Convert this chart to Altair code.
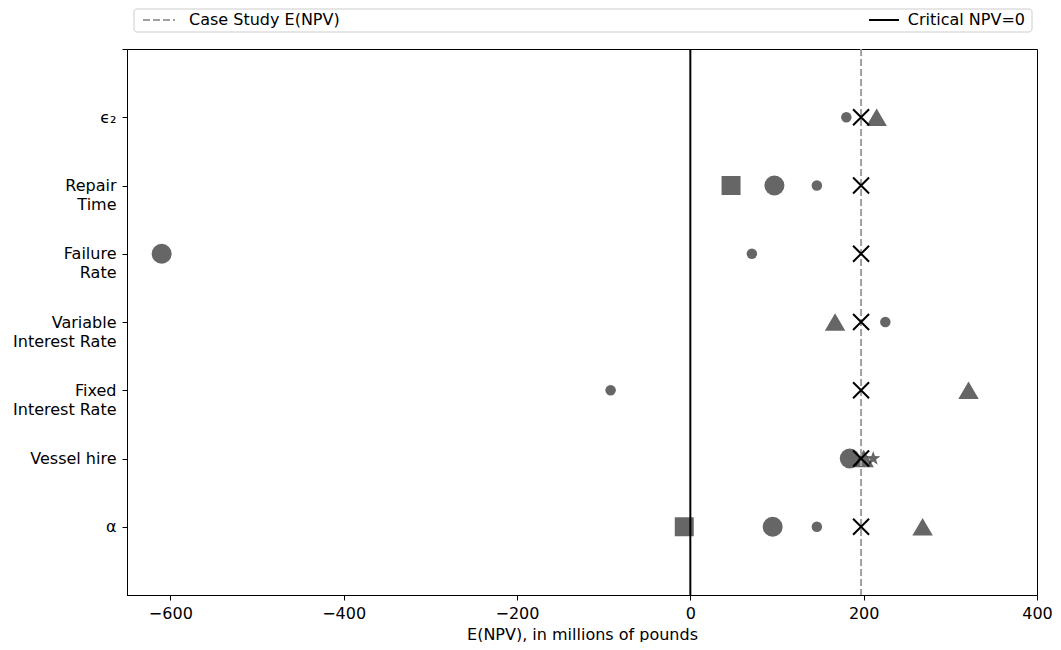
import json
import math
import altair as alt
import pandas as pd

# ---------------- data ----------------
categories = ["α", "Vessel hire", "Fixed\nInterest Rate", "Variable\nInterest Rate",
              "Failure\nRate", "Repair\nTime", "ϵ₂"]

large_circle_cat = ["α", "Vessel hire", "Failure\nRate", "Repair\nTime"]
large_circle_val = [95, 184, -610, 97]

small_circle_cat = ["α", "Fixed\nInterest Rate", "Variable\nInterest Rate", "Failure\nRate", "Repair\nTime", "ϵ₂"]
small_circle_val = [146, -92, 225, 71, 146, 180]

square_cat = ["α", "Repair\nTime"]
square_val = [-7, 47]

triangle_cat = ["α", "Vessel hire", "Fixed\nInterest Rate", "Variable\nInterest Rate", "ϵ₂"]
triangle_val = [268, 200, 321, 167, 215]

star_cat = ["Vessel hire"]
star_val = [211]

case_study_npv = 197
critical_npv = 0

x_ticks = [-600, -400, -200, 0, 200, 400]
x_domain = [-650, 400]

FS = 16
W = 910

# ---------------- helpers ----------------
idx = {c: i for i, c in enumerate(categories)}


def frame(cats, vals):
    return pd.DataFrame({"cat": [idx[c] for c in cats], "val": vals})


x_enc = alt.X("val:Q", scale=alt.Scale(domain=x_domain, nice=False, zero=False),
              axis=alt.Axis(values=x_ticks, title="E(NPV), in millions of pounds",
                            labelPadding=5, titlePadding=5))
y_enc = alt.Y("cat:Q", scale=alt.Scale(domain=[-1, len(categories)], nice=False, zero=False),
              axis=alt.Axis(values=list(range(len(categories) + 1)), title=None, labelPadding=6,
                            labelExpr="datum.value >= 0 && datum.value < %d ? %s[datum.value] : ''" % (
                                len(categories),
                                json.dumps([c.split("\n") for c in categories], ensure_ascii=False))))

GREY = "#000000"
OP = 0.6


def pts(df, shape, size):
    return alt.Chart(df).mark_point(shape=shape, size=size, filled=True, color=GREY,
                                    opacity=OP, strokeWidth=0).encode(x=x_enc, y=y_enc)


# star path in [-1,1]
star_pts = []
for k in range(10):
    r = 1.0 if k % 2 == 0 else 0.4
    a = -math.pi / 2 + k * math.pi / 5
    star_pts.append((r * math.cos(a), r * math.sin(a)))
star_path = "M" + "L".join("%.3f,%.3f" % p for p in star_pts) + "Z"
x_path = "M-1,-1L1,1M-1,1L1,-1"

layers = [
    pts(frame(large_circle_cat, large_circle_val), "circle", 400),
    pts(frame(small_circle_cat, small_circle_val), "circle", 110),
    pts(frame(square_cat, square_val), "square", 361),
    pts(frame(triangle_cat, triangle_val), "triangle-up", 420),
    pts(frame(star_cat, star_val), star_path, 230),
]

rule_df = pd.DataFrame({"val": [case_study_npv, critical_npv],
                        "kind": ["Case Study E(NPV)", "Critical NPV=0"]})
case_rule = alt.Chart(rule_df[rule_df.kind == "Case Study E(NPV)"]).mark_rule(
    color="#a0a0a0", strokeWidth=2, strokeDash=[7, 3]).encode(x=x_enc)
zero_rule = alt.Chart(rule_df[rule_df.kind == "Critical NPV=0"]).mark_rule(
    color="black", strokeWidth=2).encode(x=x_enc)

x_marks = alt.Chart(frame(categories, [case_study_npv] * len(categories))).mark_point(
    shape=x_path, size=256, filled=False, color="black", strokeWidth=2, opacity=1).encode(x=x_enc, y=y_enc)

# legend drawn above the plot (matplotlib-style expanded legend)
one = alt.InlineData(values=[{"k": 1}])
LY = -29
leg_box = alt.Chart(one).mark_rect(fill="white", stroke="#cccccc", strokeWidth=1, cornerRadius=3).encode(
    x=alt.value(7), x2=alt.value(W - 5), y=alt.value(-40), y2=alt.value(-17))
leg_dash = alt.Chart(one).mark_rule(color="#a0a0a0", strokeWidth=2, strokeDash=[7, 3]).encode(
    x=alt.value(16), x2=alt.value(48), y=alt.value(LY))
leg_t1 = alt.Chart(one).mark_text(align="left", baseline="middle", fontSize=FS, font="DejaVu Sans",
                                  color="black").encode(x=alt.value(62), y=alt.value(LY),
                                                         text=alt.value(rule_df.kind[0]))
leg_line = alt.Chart(one).mark_rule(color="black", strokeWidth=2).encode(
    x=alt.value(W - 168), x2=alt.value(W - 138), y=alt.value(LY))
leg_t2 = alt.Chart(one).mark_text(align="right", baseline="middle", fontSize=FS, font="DejaVu Sans",
                                  color="black").encode(x=alt.value(W - 12), y=alt.value(LY),
                                                         text=alt.value(rule_df.kind[1]))

chart = alt.layer(*layers, zero_rule, case_rule, x_marks,
                  leg_box, leg_dash, leg_t1, leg_line, leg_t2).properties(
    width=W, height=546,
    autosize=alt.AutoSizeParams(type="none"),
    padding={"left": 119, "top": 41, "right": 16, "bottom": 47},
).configure_view(stroke="black", strokeWidth=1).configure_axis(
    grid=False, domainColor="black", tickColor="black", tickSize=5, labelColor="black",
    labelFont="DejaVu Sans", labelFontSize=FS, titleFont="DejaVu Sans", titleFontSize=FS,
    titleFontWeight="normal", titleColor="black", labelPadding=3, titlePadding=3,
    labelLineHeight=19, labelFlush=False, labelOverlap=False,
)

chart.save("out.html", embed_options={"renderer": "svg", "actions": False})
